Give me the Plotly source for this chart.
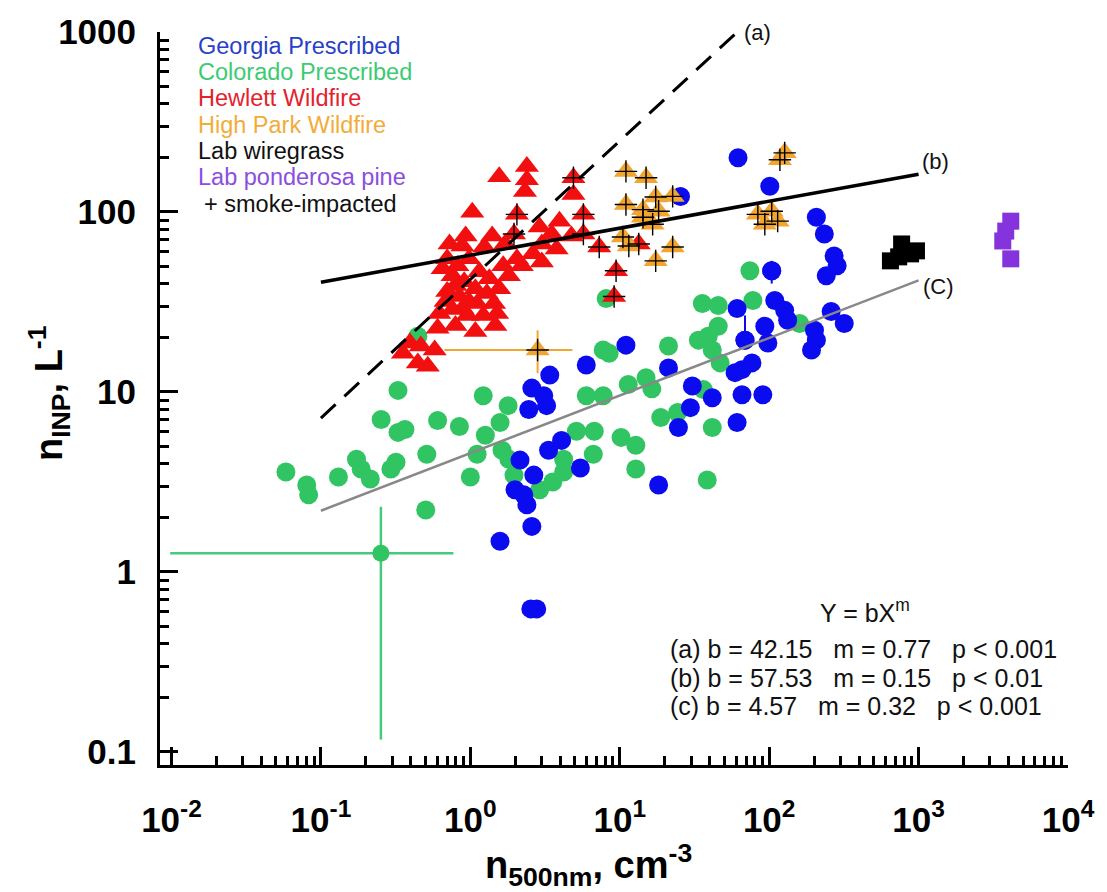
import plotly.graph_objects as go

# ---------------- data ----------------
hew_x = [1.03, 1.56, 2.39, 2.39, 2.32, 2.05, 4.90, 4.90, 5.71, 3.95, 1.96, 2.91, 5.71, 7.29, 9.45, 9.17, 13.4,
         0.93, 0.885, 1.24, 0.70, 0.82, 0.98, 0.76, 0.91, 1.15, 1.34, 0.70, 0.845, 0.98, 0.76, 0.955, 1.22,
         1.44, 0.62, 1.56, 1.66, 2.05, 2.62, 3.01, 1.47, 0.466, 0.577, 0.445, 0.519, 0.354, 0.394, 3.78, 4.75,
         0.652, 0.795, 1.08, 1.29, 0.885, 0.683, 1.11, 1.51, 1.81, 2.21, 0.604, 0.795, 1.08, 0.726, 1.40,
         1.71, 3.01, 3.50]
hew_y = [99.6, 157, 179, 151, 130, 97, 155, 125, 97, 88.9, 75.4, 82.4, 75.4, 63.9, 47.1, 33.9, 66.4,
         73.5, 64.7, 63.9, 54.9, 50.2, 54.9, 44.2, 41.0, 46.5, 42.6, 36.1, 33.9, 31.8, 28.7, 26.6, 26.6,
         31.0, 27.3, 37.5, 50.2, 54.9, 58.5, 52.8, 23.4, 18.0, 17.1, 14.5, 13.9, 16.4, 18.7, 62.3, 73.5,
         48.3, 39.0, 37.5, 35.2, 29.1, 31.8, 31.0, 27.3, 44.2, 50.2, 22.6, 23.4, 21.7, 66.4, 73.5,
         66.4, 66.4, 75.4]
hew_smoke = [0, 0, 0, 0, 0, 1, 1, 0, 1, 0, 1, 0, 1, 1, 1, 1, 1,
             0, 0, 0, 0, 0, 0, 0, 0, 0, 0, 0, 0, 0, 0, 0, 0,
             0, 0, 0, 0, 0, 0, 0, 0, 0, 0, 0, 0, 0, 0, 0, 0,
             0, 0, 0, 0, 0, 0, 0, 0, 0, 0, 0, 0, 0, 0, 0,
             0, 0, 0]

hp_x = [11.0, 15.0, 11.0, 17.4, 22.6, 14.3, 18.2, 16.6, 10.5, 11.5, 17.4, 22.6, 14.3, 127, 118, 84, 104, 114, 93.5]
hp_y = [168, 155, 110, 121, 122, 103, 101, 85.5, 72.6, 64.7, 53.5, 63.9, 93.5, 213, 195, 97, 101, 88.9, 85.5]
hp_err_x = [2.82]
hp_err_y = [17.1]
hp_err_xlo = [0.67]
hp_err_xhi = [4.82]
hp_err_ylo = [12.7]
hp_err_yhi = [22.0]

geo_x = [61.9, 101, 25.5, 207, 234, 272, 285, 241, 104, 109, 127, 133, 93.5, 201, 207, 260, 318, 68.9, 98, 192,
         61, 76.7, 65.8, 65.8, 90.7, 11.0, 5.97, 3.40, 2.58, 3.10, 2.46, 3.24, 21.2, 30.6, 41.6, 29.7, 24.7,
         4.08, 3.34, 2.15, 2.66, 5.45, 18.2, 1.99, 2.39, 2.58, 1.58, 2.54, 2.78, 2.28, 59.1, 61]
geo_y = [200, 139, 122, 93.5, 75.4, 57, 50.2, 44.2, 47.1, 32.2, 28.4, 25.0, 23.2, 22.0, 19.4, 28.0, 24.0, 19.4, 18.7, 17.1,
         29.1, 14.5, 13.3, 9.65, 9.65, 18.2, 14.1, 12.4, 10.5, 9.53, 7.98, 8.39, 13.6, 10.8, 9.29, 8.18, 6.35,
         5.38, 4.74, 4.18, 3.45, 3.78, 3.04, 2.86, 2.36, 1.79, 1.48, 0.623, 0.623, 2.68, 12.8, 6.76]
geo_err_x = [104, 68.9]
geo_err_y = [47.1, 19.4]
geo_err_ylo = [40.0, 19.4]
geo_err_yhi = [53.5, 26.6]

col_x = [0.0583, 0.0804, 0.0828, 0.131, 0.173, 0.186, 0.214, 0.253, 0.328, 0.294, 0.328, 0.445, 0.365, 0.604,
         0.845, 1.22, 1.79, 1.58, 1.26, 1.11, 0.511, 0.318, 1.0, 0.503, 1.63, 1.81, 1.96, 2.91, 3.56, 4.21,
         4.21, 5.13, 6.75, 5.97, 7.75, 11.4, 15.0, 16.4, 10.2, 12.8, 6.65, 12.8, 18.8, 24.4, 41.6, 38.5,
         8.49, 7.75, 8.11, 21.2, 35.7, 45.6, 74.3, 77.8, 39.1, 45.6, 41.6, 33.6, 47, 36.3, 160]
col_y = [3.59, 3.04, 2.68, 3.37, 4.23, 3.73, 3.28, 7.03, 10.2, 3.73, 5.96, 20.4, 6.19, 6.94,
         6.43, 9.53, 8.39, 6.76, 5.74, 4.51, 4.51, 4.07, 3.37, 2.21, 4.74, 4.23, 3.45, 2.86, 3.16, 3.59,
         4.23, 6.04, 6.04, 9.53, 9.53, 11.0, 12.0, 10.4, 5.59, 5.06, 4.51, 3.73, 7.21, 7.68, 6.35, 3.24,
         16.4, 17.1, 33.0, 18.0, 31.0, 30.2, 47.1, 32.2, 20.4, 23.2, 17.1, 19.4, 14.5, 10.3, 24.0]
col_err_x = [0.252]
col_err_y = [1.27]
col_err_xlo = [0.0098]
col_err_xhi = [0.77]
col_err_ylo = [0.117]
col_err_yhi = [2.3]

wire_x = [648, 770, 968, 736, 884]
wire_y = [53.5, 66.4, 60.8, 56.3, 58.5]
pond_x = [4140, 3830, 3660, 4140]
pond_y = [88.9, 78.3, 69.0, 54.9]

fit_names = ["(a)", "(b)", "(C)"]
fit_b = [42.15, 57.53, 4.57]
fit_m = [0.77, 0.15, 0.32]
fit_xmin = [0.1, 0.1, 0.1]
fit_xmax = [61.0, 1000.0, 1000.0]

xtick_vals = [1e-2, 1e-1, 1e0, 1e1, 1e2, 1e3, 1e4]
xtick_text = ["10<sup>-2</sup>", "10<sup>-1</sup>", "10<sup>0</sup>", "10<sup>1</sup>",
              "10<sup>2</sup>", "10<sup>3</sup>", "10<sup>4</sup>"]
ytick_vals = [0.1, 1, 10, 100, 1000]
ytick_text = ["0.1", "1", "10", "100", "1000"]

legend_labels = ["Georgia Prescribed", "Colorado Prescribed", "Hewlett Wildfire", "High Park Wildfire",
                 "Lab wiregrass", "Lab ponderosa pine", "+ smoke-impacted"]
legend_colors = ["#2a3fc6", "#3ccb72", "#e4222c", "#f2ac3a", "#111111", "#8a4ee0", "#111111"]
eq_lines = ["(a) b = 42.15   m = 0.77   p < 0.001",
            "(b) b = 57.53   m = 0.15   p < 0.01",
            "(c) b = 4.57   m = 0.32   p < 0.001"]

# ---------------- styles ----------------
BLUE = "#0b0bef"
GREEN = "#30c463"
RED = "#f20f0f"
ORANGE = "#f2a531"
PURPLE = "#8533dd"
FONT = "Liberation Sans"

# plot area in px
L, R, T, B = 160, 1076, 26, 765
W, H = 1107, 892


def pxx(p):
    return (p - L) / (R - L)


def pxy(p):
    return (B - p) / (B - T)


fig = go.Figure()

fig.add_trace(go.Scatter(x=col_x, y=col_y, mode="markers",
                         marker=dict(symbol="circle", size=19, color=GREEN, line=dict(width=0))))
fig.add_trace(go.Scatter(x=geo_x, y=geo_y, mode="markers",
                         marker=dict(symbol="circle", size=19, color=BLUE, line=dict(width=0))))
fig.add_trace(go.Scatter(x=geo_err_x, y=geo_err_y, mode="markers",
                         marker=dict(symbol="circle", size=19, color=BLUE, line=dict(width=0)),
                         error_y=dict(type="data", symmetric=False,
                                      array=[h - v for h, v in zip(geo_err_yhi, geo_err_y)],
                                      arrayminus=[v - l for l, v in zip(geo_err_ylo, geo_err_y)],
                                      color=BLUE, thickness=2, width=0)))
fig.add_trace(go.Scatter(x=hew_x, y=hew_y, mode="markers",
                         marker=dict(symbol="triangle-up", size=21, color=RED, line=dict(width=0))))
fig.add_trace(go.Scatter(x=hp_x, y=hp_y, mode="markers",
                         marker=dict(symbol="triangle-up", size=21, color=ORANGE, line=dict(width=0))))
fig.add_trace(go.Scatter(x=hp_err_x, y=hp_err_y, mode="markers",
                         marker=dict(symbol="triangle-up", size=21, color=ORANGE, line=dict(width=0)),
                         error_x=dict(type="data", symmetric=False,
                                      array=[h - v for h, v in zip(hp_err_xhi, hp_err_x)],
                                      arrayminus=[v - l for l, v in zip(hp_err_xlo, hp_err_x)],
                                      color=ORANGE, thickness=2, width=0),
                         error_y=dict(type="data", symmetric=False,
                                      array=[h - v for h, v in zip(hp_err_yhi, hp_err_y)],
                                      arrayminus=[v - l for l, v in zip(hp_err_ylo, hp_err_y)],
                                      color=ORANGE, thickness=2, width=0)))
fig.add_trace(go.Scatter(x=col_err_x, y=col_err_y, mode="markers",
                         marker=dict(symbol="circle", size=17, color=GREEN, line=dict(width=0)),
                         error_x=dict(type="data", symmetric=False,
                                      array=[h - v for h, v in zip(col_err_xhi, col_err_x)],
                                      arrayminus=[v - l for l, v in zip(col_err_xlo, col_err_x)],
                                      color="#45c97a", thickness=2.5, width=0),
                         error_y=dict(type="data", symmetric=False,
                                      array=[h - v for h, v in zip(col_err_yhi, col_err_y)],
                                      arrayminus=[v - l for l, v in zip(col_err_ylo, col_err_y)],
                                      color="#45c97a", thickness=2.5, width=0)))
fig.add_trace(go.Scatter(x=wire_x, y=wire_y, mode="markers",
                         marker=dict(symbol="square", size=17, color="black", line=dict(width=0))))
fig.add_trace(go.Scatter(x=pond_x, y=pond_y, mode="markers",
                         marker=dict(symbol="square", size=17, color=PURPLE, line=dict(width=0))))

# smoke-impacted crosses
sx = [x for x, s in zip(hew_x, hew_smoke) if s] + hp_x + hp_err_x
sy = [y for y, s in zip(hew_y, hew_smoke) if s] + hp_y + hp_err_y
fig.add_trace(go.Scatter(x=sx, y=sy, mode="markers",
                         marker=dict(symbol="cross-thin-open", size=16, color="black",
                                     line=dict(width=1.4, color="#2a1a10"))))

# power-law fits
fit_styles = [dict(color="black", width=3, dash="20px,12px"),
              dict(color="black", width=3.5),
              dict(color="#888888", width=2.5)]
for name, b, m, x0, x1, st in zip(fit_names, fit_b, fit_m, fit_xmin, fit_xmax, fit_styles):
    n = 60
    xs = [x0 * (x1 / x0) ** (i / (n - 1)) for i in range(n)]
    ys = [b * x ** m for x in xs]
    fig.add_trace(go.Scatter(x=xs, y=ys, mode="lines", line=st))

minor_x = [k * 10 ** e for e in range(-2, 4) for k in range(2, 10)]
minor_y = [k * 10 ** e for e in range(-1, 3) for k in range(2, 10)]

ann = []
# legend text
for i, (lab, c) in enumerate(zip(legend_labels, legend_colors)):
    xpos = 202 if lab.startswith("+") else 196
    ann.append(dict(x=pxx(xpos), y=pxy(40 + i * 26.5), xref="paper", yref="paper", text=lab,
                    showarrow=False, xanchor="left", yanchor="middle",
                    font=dict(family=FONT, size=23.5, color=c)))
# fit labels
for lab, (lx, ly) in zip(fit_names, [(747, 27), (927, 157), (928, 283)]):
    ann.append(dict(x=pxx(lx), y=pxy(ly), xref="paper", yref="paper", text=lab, showarrow=False,
                    xanchor="left", yanchor="middle", font=dict(family=FONT, size=22, color="#111111")))
# equations
ann.append(dict(x=pxx(871), y=pxy(610), xref="paper", yref="paper", text="Y = bX<sup>m</sup>",
                showarrow=False, xanchor="center", yanchor="middle",
                font=dict(family=FONT, size=25, color="#111111")))
for i, t in enumerate(eq_lines):
    ann.append(dict(x=pxx(672), y=pxy(648 + i * 29), xref="paper", yref="paper",
                    text=t.replace(" ", "\u00a0"), showarrow=False, xanchor="left", yanchor="middle",
                    font=dict(family=FONT, size=25, color="#111111")))
# axis titles
ann.append(dict(x=pxx(592), y=pxy(866), xref="paper", yref="paper",
                text="n<sub>500nm</sub>, cm<sup>-3</sup>", showarrow=False, xanchor="center",
                yanchor="middle", font=dict(family=FONT, size=38, color="black", weight="bold")))
ann.append(dict(x=pxx(48), y=pxy(390), xref="paper", yref="paper",
                text="n<sub>INP</sub>, L<sup>-1</sup>", showarrow=False, xanchor="center",
                yanchor="middle", textangle=-90,
                font=dict(family=FONT, size=38, color="black", weight="bold")))

axis_common = dict(type="log", showline=True, linewidth=3, linecolor="black", ticks="inside",
                   ticklen=18, tickwidth=3, tickcolor="black", showgrid=False, zeroline=False,
                   mirror=False, tickmode="array",
                   tickfont=dict(family=FONT, size=35, color="black", weight="bold"))

fig.update_layout(
    width=W, height=H, paper_bgcolor="white", plot_bgcolor="white",
    margin=dict(l=L, r=W - R, t=T, b=H - B),
    showlegend=False,
    font=dict(family=FONT),
    xaxis=dict(axis_common, range=[-2.077, 4.0], tickvals=xtick_vals, ticktext=xtick_text,
               ticklabelstandoff=22,
               minor=dict(tickmode="array", tickvals=minor_x, ticks="inside", ticklen=9,
                          tickwidth=2.5, tickcolor="black", showgrid=False)),
    yaxis=dict(axis_common, range=[-1.073, 3.0], tickvals=ytick_vals, ticktext=ytick_text,
               ticklabelstandoff=14,
               minor=dict(tickmode="array", tickvals=minor_y, ticks="inside", ticklen=9,
                          tickwidth=2.5, tickcolor="black", showgrid=False)),
    annotations=ann,
)

fig.write_html("out.html")
